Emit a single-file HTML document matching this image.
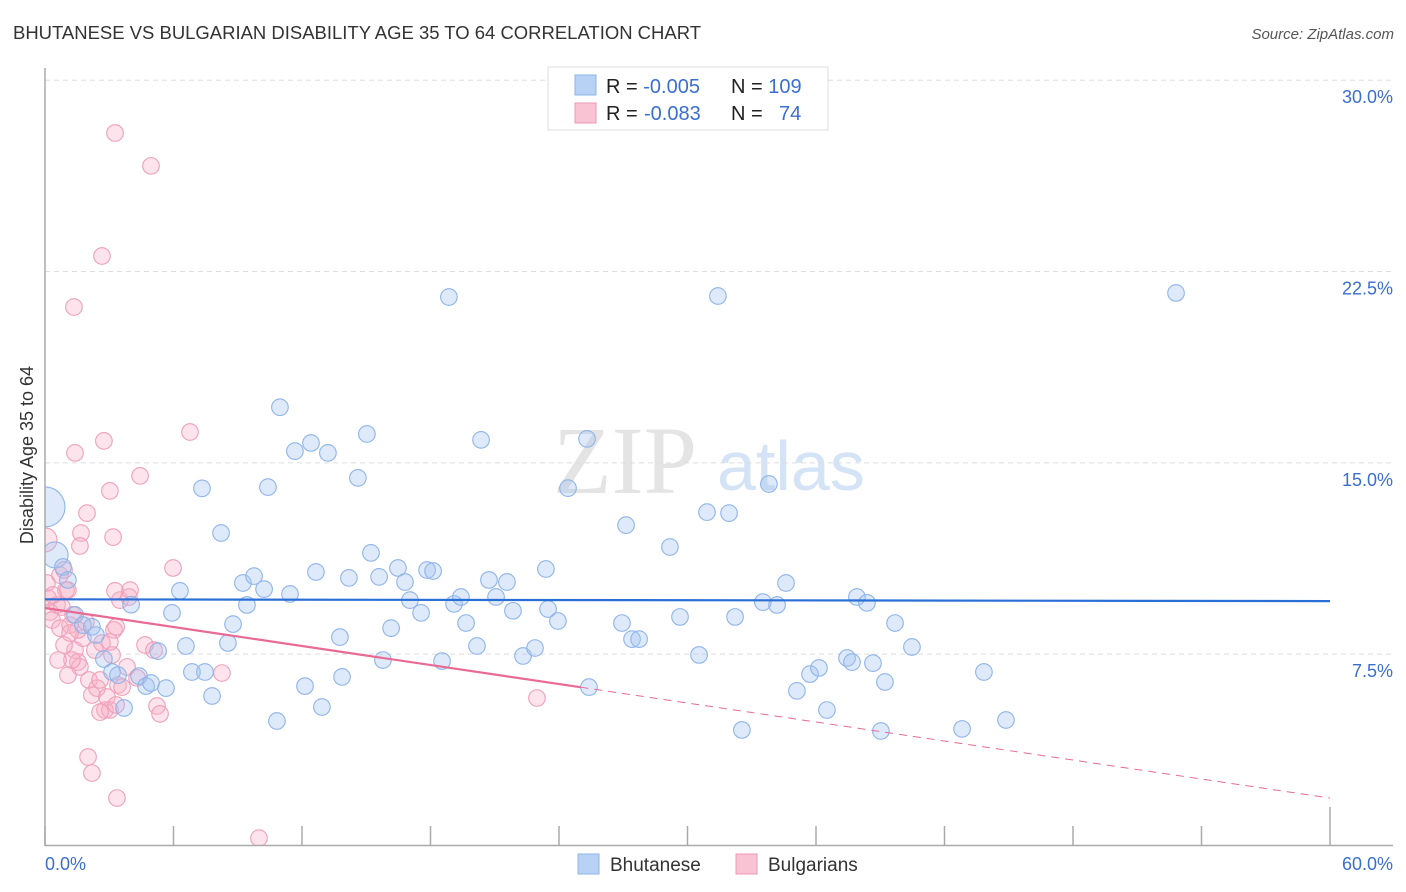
<!DOCTYPE html>
<html><head><meta charset="utf-8"><style>
body{margin:0;background:#fff;font-family:"Liberation Sans",sans-serif;}
svg{display:block}
</style></head><body>
<svg id="chart" width="1406" height="892">
<defs><clipPath id="plotclip"><rect x="45" y="60" width="1360" height="786"/></clipPath></defs>
<text x="13" y="39" font-size="18" fill="#333" textLength="688" lengthAdjust="spacingAndGlyphs">BHUTANESE VS BULGARIAN DISABILITY AGE 35 TO 64 CORRELATION CHART</text>
<text x="1394" y="39" font-size="15" fill="#555" font-style="italic" text-anchor="end">Source: ZipAtlas.com</text>
<g>
<text x="553" y="493" font-size="96" fill="#e4e4e4" font-family="Liberation Serif,serif">ZIP</text>
<text x="717" y="490" font-size="70" fill="#d4e3f5">atlas</text>
</g>
<text transform="translate(33,455) rotate(-90)" font-size="18" fill="#333" text-anchor="middle">Disability Age 35 to 64</text>
<g id="grid"></g><g id="pts" clip-path="url(#plotclip)"></g><g id="axes"></g><g id="lines"></g>
<g>
<rect x="548" y="67" width="280" height="63" fill="#fff" stroke="#ddd"/>
<rect x="575" y="75" width="21" height="20" fill="#b7d2f5" stroke="#8fb4e8"/>
<rect x="575" y="103" width="21" height="20" fill="#f9c3d3" stroke="#ec9ab5"/>
<text x="606" y="93" font-size="20" fill="#222">R = <tspan fill="#3a6fd0">-0.005</tspan><tspan x="731">N = </tspan><tspan fill="#3a6fd0">109</tspan></text>
<text x="606" y="120" font-size="20" fill="#222">R = <tspan fill="#3a6fd0" x="644">-0.083</tspan><tspan x="731">N = </tspan><tspan fill="#3a6fd0" x="779">74</tspan></text>
</g>
<g>
<rect x="578" y="854" width="21" height="20" fill="#b7d2f5" stroke="#8fb4e8"/>
<text x="610" y="871" font-size="19" fill="#333">Bhutanese</text>
<rect x="736" y="854" width="21" height="20" fill="#f9c3d3" stroke="#ec9ab5"/>
<text x="768" y="871" font-size="19" fill="#333">Bulgarians</text>
</g>
</svg>
<script>
const blueX=[0.0,0.47,0.84,1.07,1.40,1.77,2.19,2.38,2.75,3.13,3.41,3.69,4.02,4.39,4.72,4.95,5.28,5.65,5.93,6.30,6.58,6.86,7.33,7.47,7.80,8.22,8.54,8.78,9.24,9.43,9.76,10.23,10.41,10.83,10.97,11.44,11.67,12.14,12.42,12.65,12.93,13.21,13.77,13.87,14.19,14.61,15.03,15.22,15.60,15.78,16.16,16.48,16.81,17.04,17.56,17.84,18.12,18.54,18.86,19.10,19.42,19.66,20.17,20.36,20.73,21.06,21.57,21.85,22.32,22.88,23.39,23.49,23.95,24.42,25.31,25.40,26.94,27.13,27.41,27.74,29.18,29.65,30.54,30.91,31.42,31.94,32.22,32.54,33.52,33.80,34.18,34.60,35.11,35.72,36.14,36.51,37.45,37.68,37.91,38.38,38.66,39.03,39.22,39.69,40.48,42.82,43.84,44.87,52.81];
const blueY=[13.27,11.39,10.92,10.41,9.04,8.64,8.57,8.25,7.31,6.80,6.68,5.39,9.44,6.64,6.25,6.37,7.62,6.17,9.12,9.98,7.82,6.80,14.0,6.80,5.86,12.25,7.94,8.68,10.29,9.43,10.56,10.05,14.05,4.88,17.18,9.86,15.46,6.25,15.78,10.72,5.43,15.39,8.17,6.61,10.49,14.41,16.13,11.47,10.53,7.27,8.52,10.88,10.33,9.62,9.12,10.80,10.76,7.23,21.50,9.47,9.74,8.72,7.82,15.90,10.41,9.74,10.33,9.20,7.43,7.74,10.84,9.27,8.80,14.01,15.94,6.21,8.72,12.56,8.09,8.09,11.70,8.96,7.47,13.07,21.54,13.03,8.96,4.53,9.54,14.17,9.43,10.29,6.06,6.72,6.96,5.31,7.35,7.19,9.74,9.51,7.15,4.49,6.41,8.72,7.78,4.57,6.80,4.92,21.66];
const pinkX=[3.27,4.95,2.66,1.35,6.77,2.75,1.40,4.44,3.03,1.96,3.18,1.68,1.63,5.98,0,0.09,0.14,0.23,0.33,0.56,0.70,0.79,0.89,1.07,1.17,1.31,1.40,1.54,1.63,1.77,1.91,2.05,2.19,2.33,2.43,2.57,2.66,2.80,2.89,3.03,3.13,3.22,3.32,3.41,3.50,3.60,3.83,3.92,4.30,4.67,5.09,5.23,5.37,8.26,22.97,2.01,2.19,3.36,9.99,1.07,1.26,1.54,0.61,0.89,2.57,3.03,3.32,0.98,0.37,0.70,1.17,3.27,3.97];
const pinkY=[27.93,26.64,23.11,21.11,16.21,15.86,15.39,14.49,13.90,13.03,12.09,12.25,11.74,10.88,11.98,10.29,9.70,9.15,8.84,9.43,10.60,9.35,10.80,10.01,8.64,9.04,7.66,7.19,7.00,8.13,8.76,6.49,5.90,7.66,6.17,6.49,7.94,5.31,5.82,5.31,7.47,8.45,5.51,6.29,9.62,6.21,7.00,9.74,6.57,7.86,7.66,5.47,5.16,6.76,5.78,3.47,2.84,1.86,0.29,6.68,7.27,8.45,7.27,7.86,5.23,7.98,8.57,10.01,9.82,8.52,8.33,9.98,10.01];
const yTicks=[7.5,15.0,22.5,30.0];
const xTicks=[0,6,12,18,24,30,36,42,48,54,60];
const blueTrend=[9.65,9.58];
const pinkTrend=[9.31,1.86];
const pinkSolidEnd=25.0;

const NS="http://www.w3.org/2000/svg";
const X=v=>45+v*(1285/60);
const Y=v=>845.5-v*25.51;
function mk(tag,attrs,parent){const e=document.createElementNS(NS,tag);for(const k in attrs)e.setAttribute(k,attrs[k]);parent.appendChild(e);return e;}
const grid=document.getElementById('grid'),axes=document.getElementById('axes'),pts=document.getElementById('pts'),lines=document.getElementById('lines');
yTicks.forEach(t=>{
  const l=mk('line',{x1:45,x2:1393,y1:Y(t),y2:Y(t),stroke:'#ddd','stroke-dasharray':'5,4'},grid);
  
  
  const tx=mk('text',{x:1393,y:Y(t)+23,'font-size':18,fill:'#3a6fd0','text-anchor':'end'},axes);
  tx.textContent=t.toFixed(1)+'%';
  
  
});
let a=mk('line',{x1:45,x2:45,y1:68,y2:846,stroke:'#aaa','stroke-width':1.5},axes);


a=mk('line',{x1:45,x2:1393,y1:845.5,y2:845.5,stroke:'#aaa','stroke-width':1.5},axes);


xTicks.forEach((t,i)=>{
  const top=(i===xTicks.length-1)?807:826;
  const l=mk('line',{x1:X(t),x2:X(t),y1:top,y2:845,stroke:'#aaa','stroke-width':1.5},axes);
  
  
});
let tl=mk('text',{x:45,y:870,'font-size':18,fill:'#3a6fd0'},axes);tl.textContent='0.0%';


tl=mk('text',{x:1393,y:870,'font-size':18,fill:'#3a6fd0','text-anchor':'end'},axes);tl.textContent='60.0%';



pinkX.forEach((x,i)=>{
  const c=mk('circle',{cx:X(x),cy:Y(pinkY[i]),r:(i===14?12:8.3),fill:'rgba(248,175,198,0.35)',stroke:'#eea0ba','stroke-width':1.1},pts);
  
  
});
blueX.forEach((x,i)=>{
  const c=mk('circle',{cx:X(x),cy:Y(blueY[i]),r:(i===0?20:(i===1?13:8.3)),fill:'rgba(160,196,240,0.35)',stroke:'#8fb4e8','stroke-width':1.1},pts);
  
  
});
let ln=mk('line',{x1:X(0),y1:Y(blueTrend[0]),x2:X(60),y2:Y(blueTrend[1]),stroke:'#2a6fd6','stroke-width':2.2},lines);


const py=v=>pinkTrend[0]+(pinkTrend[1]-pinkTrend[0])*v/60;
ln=mk('line',{x1:X(0),y1:Y(py(0)),x2:X(pinkSolidEnd),y2:Y(py(pinkSolidEnd)),stroke:'#e86a95','stroke-width':2.2},lines);


ln=mk('line',{x1:X(pinkSolidEnd),y1:Y(py(pinkSolidEnd)),x2:X(60),y2:Y(py(60)),stroke:'#e86a95','stroke-width':1,'stroke-dasharray':'8,6'},lines);


</script>
</body></html>
